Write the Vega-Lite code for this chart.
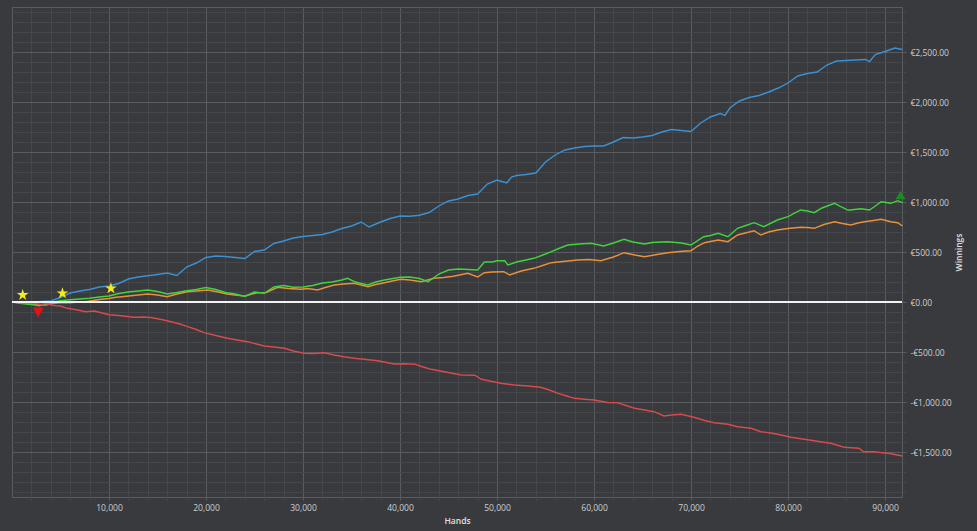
{
  "$schema": "https://vega.github.io/schema/vega-lite/v6.json",
  "width": 890,
  "height": 490,
  "autosize": {"type": "none"},
  "padding": {"left": 12, "top": 7, "right": 75, "bottom": 34},
  "background": "#383a3e",
  "datasets": {
    "lines": [
      {"series": "blue", "hands": 0, "winnings": 0}, {"series": "blue", "hands": 1000, "winnings": -5}, {"series": "blue", "hands": 2000, "winnings": -10}, {"series": "blue", "hands": 3000, "winnings": 5}, {"series": "blue", "hands": 4000, "winnings": 10}, {"series": "blue", "hands": 5000, "winnings": 45}, {"series": "blue", "hands": 6000, "winnings": 90}, {"series": "blue", "hands": 7000, "winnings": 110}, {"series": "blue", "hands": 8000, "winnings": 125}, {"series": "blue", "hands": 9000, "winnings": 150}, {"series": "blue", "hands": 10000, "winnings": 160}, {"series": "blue", "hands": 11000, "winnings": 185}, {"series": "blue", "hands": 12000, "winnings": 230}, {"series": "blue", "hands": 13000, "winnings": 250}, {"series": "blue", "hands": 14000, "winnings": 262}, {"series": "blue", "hands": 15000, "winnings": 275}, {"series": "blue", "hands": 16000, "winnings": 290}, {"series": "blue", "hands": 17000, "winnings": 265}, {"series": "blue", "hands": 18000, "winnings": 350}, {"series": "blue", "hands": 19000, "winnings": 390}, {"series": "blue", "hands": 20000, "winnings": 445}, {"series": "blue", "hands": 21000, "winnings": 460}, {"series": "blue", "hands": 22000, "winnings": 455}, {"series": "blue", "hands": 23000, "winnings": 445}, {"series": "blue", "hands": 24000, "winnings": 435}, {"series": "blue", "hands": 25000, "winnings": 505}, {"series": "blue", "hands": 26000, "winnings": 520}, {"series": "blue", "hands": 27000, "winnings": 585}, {"series": "blue", "hands": 28000, "winnings": 610}, {"series": "blue", "hands": 29000, "winnings": 640}, {"series": "blue", "hands": 30000, "winnings": 655}, {"series": "blue", "hands": 31000, "winnings": 665}, {"series": "blue", "hands": 32000, "winnings": 675}, {"series": "blue", "hands": 33000, "winnings": 700}, {"series": "blue", "hands": 34000, "winnings": 735}, {"series": "blue", "hands": 35000, "winnings": 760}, {"series": "blue", "hands": 36000, "winnings": 800}, {"series": "blue", "hands": 36800, "winnings": 750}, {"series": "blue", "hands": 38000, "winnings": 800}, {"series": "blue", "hands": 39000, "winnings": 835}, {"series": "blue", "hands": 40000, "winnings": 860}, {"series": "blue", "hands": 41000, "winnings": 858}, {"series": "blue", "hands": 42000, "winnings": 868}, {"series": "blue", "hands": 43000, "winnings": 895}, {"series": "blue", "hands": 44000, "winnings": 960}, {"series": "blue", "hands": 45000, "winnings": 1010}, {"series": "blue", "hands": 46000, "winnings": 1030}, {"series": "blue", "hands": 47000, "winnings": 1065}, {"series": "blue", "hands": 48000, "winnings": 1080}, {"series": "blue", "hands": 49000, "winnings": 1180}, {"series": "blue", "hands": 50000, "winnings": 1220}, {"series": "blue", "hands": 51000, "winnings": 1190}, {"series": "blue", "hands": 51500, "winnings": 1250}, {"series": "blue", "hands": 52000, "winnings": 1265}, {"series": "blue", "hands": 53000, "winnings": 1275}, {"series": "blue", "hands": 54000, "winnings": 1290}, {"series": "blue", "hands": 55000, "winnings": 1400}, {"series": "blue", "hands": 56000, "winnings": 1470}, {"series": "blue", "hands": 57000, "winnings": 1520}, {"series": "blue", "hands": 58000, "winnings": 1540}, {"series": "blue", "hands": 59000, "winnings": 1555}, {"series": "blue", "hands": 60000, "winnings": 1560}, {"series": "blue", "hands": 61000, "winnings": 1560}, {"series": "blue", "hands": 62000, "winnings": 1600}, {"series": "blue", "hands": 63000, "winnings": 1645}, {"series": "blue", "hands": 64000, "winnings": 1640}, {"series": "blue", "hands": 65000, "winnings": 1650}, {"series": "blue", "hands": 66000, "winnings": 1665}, {"series": "blue", "hands": 67000, "winnings": 1700}, {"series": "blue", "hands": 68000, "winnings": 1725}, {"series": "blue", "hands": 69000, "winnings": 1715}, {"series": "blue", "hands": 70000, "winnings": 1705}, {"series": "blue", "hands": 71000, "winnings": 1790}, {"series": "blue", "hands": 72000, "winnings": 1850}, {"series": "blue", "hands": 73000, "winnings": 1885}, {"series": "blue", "hands": 73500, "winnings": 1865}, {"series": "blue", "hands": 74000, "winnings": 1940}, {"series": "blue", "hands": 75000, "winnings": 2010}, {"series": "blue", "hands": 76000, "winnings": 2045}, {"series": "blue", "hands": 77000, "winnings": 2065}, {"series": "blue", "hands": 78000, "winnings": 2100}, {"series": "blue", "hands": 79000, "winnings": 2140}, {"series": "blue", "hands": 80000, "winnings": 2190}, {"series": "blue", "hands": 81000, "winnings": 2260}, {"series": "blue", "hands": 82000, "winnings": 2285}, {"series": "blue", "hands": 83000, "winnings": 2300}, {"series": "blue", "hands": 84000, "winnings": 2370}, {"series": "blue", "hands": 85000, "winnings": 2410}, {"series": "blue", "hands": 86000, "winnings": 2415}, {"series": "blue", "hands": 87000, "winnings": 2420}, {"series": "blue", "hands": 88000, "winnings": 2425}, {"series": "blue", "hands": 88400, "winnings": 2405}, {"series": "blue", "hands": 89000, "winnings": 2475}, {"series": "blue", "hands": 90000, "winnings": 2505}, {"series": "blue", "hands": 91000, "winnings": 2540}, {"series": "blue", "hands": 91800, "winnings": 2525},
      {"series": "orange", "hands": 0, "winnings": 0}, {"series": "orange", "hands": 1000, "winnings": -10}, {"series": "orange", "hands": 2000, "winnings": -20}, {"series": "orange", "hands": 3000, "winnings": -28}, {"series": "orange", "hands": 3500, "winnings": -30}, {"series": "orange", "hands": 4200, "winnings": -13}, {"series": "orange", "hands": 5000, "winnings": -8}, {"series": "orange", "hands": 5900, "winnings": -7}, {"series": "orange", "hands": 7000, "winnings": 0}, {"series": "orange", "hands": 7600, "winnings": 3}, {"series": "orange", "hands": 9000, "winnings": 25}, {"series": "orange", "hands": 10000, "winnings": 35}, {"series": "orange", "hands": 10700, "winnings": 47}, {"series": "orange", "hands": 11300, "winnings": 53}, {"series": "orange", "hands": 12500, "winnings": 65}, {"series": "orange", "hands": 14000, "winnings": 80}, {"series": "orange", "hands": 15000, "winnings": 70}, {"series": "orange", "hands": 16000, "winnings": 53}, {"series": "orange", "hands": 17000, "winnings": 80}, {"series": "orange", "hands": 18100, "winnings": 103}, {"series": "orange", "hands": 19000, "winnings": 110}, {"series": "orange", "hands": 20200, "winnings": 120}, {"series": "orange", "hands": 21000, "winnings": 105}, {"series": "orange", "hands": 22200, "winnings": 80}, {"series": "orange", "hands": 23000, "winnings": 70}, {"series": "orange", "hands": 24000, "winnings": 60}, {"series": "orange", "hands": 25300, "winnings": 93}, {"series": "orange", "hands": 26200, "winnings": 95}, {"series": "orange", "hands": 27400, "winnings": 147}, {"series": "orange", "hands": 28500, "winnings": 135}, {"series": "orange", "hands": 29800, "winnings": 127}, {"series": "orange", "hands": 30500, "winnings": 135}, {"series": "orange", "hands": 31500, "winnings": 120}, {"series": "orange", "hands": 32300, "winnings": 145}, {"series": "orange", "hands": 33200, "winnings": 170}, {"series": "orange", "hands": 34200, "winnings": 180}, {"series": "orange", "hands": 35300, "winnings": 187}, {"series": "orange", "hands": 36000, "winnings": 170}, {"series": "orange", "hands": 36700, "winnings": 153}, {"series": "orange", "hands": 37500, "winnings": 175}, {"series": "orange", "hands": 38400, "winnings": 193}, {"series": "orange", "hands": 39200, "winnings": 210}, {"series": "orange", "hands": 40100, "winnings": 227}, {"series": "orange", "hands": 41000, "winnings": 220}, {"series": "orange", "hands": 42200, "winnings": 203}, {"series": "orange", "hands": 43500, "winnings": 237}, {"series": "orange", "hands": 44500, "winnings": 245}, {"series": "orange", "hands": 45500, "winnings": 258}, {"series": "orange", "hands": 47000, "winnings": 287}, {"series": "orange", "hands": 48000, "winnings": 250}, {"series": "orange", "hands": 48700, "winnings": 293}, {"series": "orange", "hands": 49500, "winnings": 300}, {"series": "orange", "hands": 50700, "winnings": 303}, {"series": "orange", "hands": 51300, "winnings": 270}, {"series": "orange", "hands": 52500, "winnings": 310}, {"series": "orange", "hands": 53800, "winnings": 337}, {"series": "orange", "hands": 54700, "winnings": 365}, {"series": "orange", "hands": 55600, "winnings": 393}, {"series": "orange", "hands": 56800, "winnings": 405}, {"series": "orange", "hands": 58300, "winnings": 420}, {"series": "orange", "hands": 59500, "winnings": 425}, {"series": "orange", "hands": 60700, "winnings": 413}, {"series": "orange", "hands": 62000, "winnings": 450}, {"series": "orange", "hands": 63100, "winnings": 493}, {"series": "orange", "hands": 64200, "winnings": 470}, {"series": "orange", "hands": 65200, "winnings": 453}, {"series": "orange", "hands": 66500, "winnings": 475}, {"series": "orange", "hands": 67600, "winnings": 493}, {"series": "orange", "hands": 68800, "winnings": 505}, {"series": "orange", "hands": 70000, "winnings": 513}, {"series": "orange", "hands": 70700, "winnings": 560}, {"series": "orange", "hands": 71400, "winnings": 593}, {"series": "orange", "hands": 72000, "winnings": 605}, {"series": "orange", "hands": 72800, "winnings": 620}, {"series": "orange", "hands": 73800, "winnings": 603}, {"series": "orange", "hands": 74800, "winnings": 670}, {"series": "orange", "hands": 75600, "winnings": 690}, {"series": "orange", "hands": 76500, "winnings": 713}, {"series": "orange", "hands": 77200, "winnings": 670}, {"series": "orange", "hands": 78000, "winnings": 700}, {"series": "orange", "hands": 78900, "winnings": 720}, {"series": "orange", "hands": 80000, "winnings": 735}, {"series": "orange", "hands": 81300, "winnings": 747}, {"series": "orange", "hands": 82000, "winnings": 745}, {"series": "orange", "hands": 82700, "winnings": 737}, {"series": "orange", "hands": 83700, "winnings": 775}, {"series": "orange", "hands": 84800, "winnings": 803}, {"series": "orange", "hands": 85600, "winnings": 785}, {"series": "orange", "hands": 86500, "winnings": 770}, {"series": "orange", "hands": 87200, "winnings": 790}, {"series": "orange", "hands": 87900, "winnings": 803}, {"series": "orange", "hands": 88800, "winnings": 815}, {"series": "orange", "hands": 89600, "winnings": 827}, {"series": "orange", "hands": 90600, "winnings": 803}, {"series": "orange", "hands": 91300, "winnings": 793}, {"series": "orange", "hands": 91800, "winnings": 760},
      {"series": "green", "hands": 0, "winnings": 0}, {"series": "green", "hands": 1000, "winnings": -15}, {"series": "green", "hands": 2000, "winnings": -25}, {"series": "green", "hands": 2800, "winnings": -37}, {"series": "green", "hands": 3500, "winnings": -15}, {"series": "green", "hands": 4000, "winnings": -8}, {"series": "green", "hands": 5000, "winnings": 12}, {"series": "green", "hands": 6000, "winnings": 22}, {"series": "green", "hands": 7000, "winnings": 30}, {"series": "green", "hands": 8000, "winnings": 37}, {"series": "green", "hands": 9000, "winnings": 50}, {"series": "green", "hands": 10000, "winnings": 60}, {"series": "green", "hands": 11000, "winnings": 85}, {"series": "green", "hands": 12000, "winnings": 100}, {"series": "green", "hands": 13000, "winnings": 110}, {"series": "green", "hands": 14000, "winnings": 120}, {"series": "green", "hands": 15000, "winnings": 105}, {"series": "green", "hands": 16000, "winnings": 80}, {"series": "green", "hands": 17000, "winnings": 95}, {"series": "green", "hands": 18000, "winnings": 113}, {"series": "green", "hands": 19000, "winnings": 125}, {"series": "green", "hands": 20000, "winnings": 145}, {"series": "green", "hands": 21000, "winnings": 125}, {"series": "green", "hands": 22000, "winnings": 95}, {"series": "green", "hands": 23000, "winnings": 80}, {"series": "green", "hands": 24000, "winnings": 55}, {"series": "green", "hands": 25000, "winnings": 100}, {"series": "green", "hands": 26000, "winnings": 87}, {"series": "green", "hands": 27000, "winnings": 150}, {"series": "green", "hands": 28000, "winnings": 165}, {"series": "green", "hands": 29000, "winnings": 147}, {"series": "green", "hands": 30000, "winnings": 150}, {"series": "green", "hands": 31000, "winnings": 165}, {"series": "green", "hands": 32000, "winnings": 190}, {"series": "green", "hands": 33000, "winnings": 200}, {"series": "green", "hands": 34000, "winnings": 220}, {"series": "green", "hands": 34600, "winnings": 237}, {"series": "green", "hands": 35300, "winnings": 203}, {"series": "green", "hands": 36000, "winnings": 185}, {"series": "green", "hands": 36700, "winnings": 170}, {"series": "green", "hands": 37500, "winnings": 200}, {"series": "green", "hands": 38400, "winnings": 220}, {"series": "green", "hands": 39000, "winnings": 230}, {"series": "green", "hands": 40000, "winnings": 247}, {"series": "green", "hands": 41000, "winnings": 250}, {"series": "green", "hands": 42000, "winnings": 235}, {"series": "green", "hands": 42900, "winnings": 203}, {"series": "green", "hands": 44000, "winnings": 280}, {"series": "green", "hands": 45000, "winnings": 320}, {"series": "green", "hands": 46000, "winnings": 330}, {"series": "green", "hands": 47000, "winnings": 325}, {"series": "green", "hands": 48000, "winnings": 320}, {"series": "green", "hands": 48700, "winnings": 400}, {"series": "green", "hands": 49500, "winnings": 400}, {"series": "green", "hands": 50000, "winnings": 413}, {"series": "green", "hands": 50800, "winnings": 413}, {"series": "green", "hands": 51100, "winnings": 370}, {"series": "green", "hands": 52000, "winnings": 400}, {"series": "green", "hands": 53000, "winnings": 420}, {"series": "green", "hands": 53800, "winnings": 437}, {"series": "green", "hands": 55000, "winnings": 480}, {"series": "green", "hands": 55600, "winnings": 503}, {"series": "green", "hands": 56500, "winnings": 540}, {"series": "green", "hands": 57300, "winnings": 570}, {"series": "green", "hands": 58500, "winnings": 580}, {"series": "green", "hands": 59700, "winnings": 587}, {"series": "green", "hands": 61000, "winnings": 560}, {"series": "green", "hands": 62000, "winnings": 590}, {"series": "green", "hands": 63100, "winnings": 627}, {"series": "green", "hands": 64000, "winnings": 600}, {"series": "green", "hands": 65200, "winnings": 580}, {"series": "green", "hands": 66000, "winnings": 595}, {"series": "green", "hands": 67600, "winnings": 603}, {"series": "green", "hands": 69000, "winnings": 590}, {"series": "green", "hands": 70000, "winnings": 570}, {"series": "green", "hands": 71300, "winnings": 653}, {"series": "green", "hands": 72000, "winnings": 665}, {"series": "green", "hands": 72800, "winnings": 687}, {"series": "green", "hands": 73800, "winnings": 653}, {"series": "green", "hands": 74800, "winnings": 737}, {"series": "green", "hands": 75500, "winnings": 760}, {"series": "green", "hands": 76500, "winnings": 793}, {"series": "green", "hands": 77500, "winnings": 753}, {"series": "green", "hands": 78900, "winnings": 820}, {"series": "green", "hands": 80000, "winnings": 853}, {"series": "green", "hands": 81300, "winnings": 920}, {"series": "green", "hands": 82000, "winnings": 910}, {"series": "green", "hands": 82700, "winnings": 893}, {"series": "green", "hands": 83500, "winnings": 940}, {"series": "green", "hands": 84800, "winnings": 987}, {"series": "green", "hands": 85500, "winnings": 950}, {"series": "green", "hands": 86200, "winnings": 917}, {"series": "green", "hands": 87500, "winnings": 933}, {"series": "green", "hands": 88400, "winnings": 920}, {"series": "green", "hands": 89000, "winnings": 960}, {"series": "green", "hands": 89600, "winnings": 1003}, {"series": "green", "hands": 90600, "winnings": 987}, {"series": "green", "hands": 91300, "winnings": 1013}, {"series": "green", "hands": 91800, "winnings": 993},
      {"series": "red", "hands": 0, "winnings": 0}, {"series": "red", "hands": 1000, "winnings": -5}, {"series": "red", "hands": 2000, "winnings": -10}, {"series": "red", "hands": 3100, "winnings": -25}, {"series": "red", "hands": 3300, "winnings": -13}, {"series": "red", "hands": 4500, "winnings": -37}, {"series": "red", "hands": 5000, "winnings": -40}, {"series": "red", "hands": 5700, "winnings": -63}, {"series": "red", "hands": 6500, "winnings": -75}, {"series": "red", "hands": 7600, "winnings": -97}, {"series": "red", "hands": 8500, "winnings": -90}, {"series": "red", "hands": 9300, "winnings": -110}, {"series": "red", "hands": 10000, "winnings": -128}, {"series": "red", "hands": 11000, "winnings": -135}, {"series": "red", "hands": 12600, "winnings": -153}, {"series": "red", "hands": 13500, "winnings": -150}, {"series": "red", "hands": 14300, "winnings": -155}, {"series": "red", "hands": 15400, "winnings": -175}, {"series": "red", "hands": 16400, "winnings": -197}, {"series": "red", "hands": 17300, "winnings": -220}, {"series": "red", "hands": 18100, "winnings": -247}, {"series": "red", "hands": 19000, "winnings": -275}, {"series": "red", "hands": 19800, "winnings": -307}, {"series": "red", "hands": 21000, "winnings": -335}, {"series": "red", "hands": 22200, "winnings": -363}, {"series": "red", "hands": 23200, "winnings": -380}, {"series": "red", "hands": 24300, "winnings": -397}, {"series": "red", "hands": 25200, "winnings": -420}, {"series": "red", "hands": 26000, "winnings": -440}, {"series": "red", "hands": 27000, "winnings": -450}, {"series": "red", "hands": 28100, "winnings": -463}, {"series": "red", "hands": 29000, "winnings": -490}, {"series": "red", "hands": 30100, "winnings": -513}, {"series": "red", "hands": 31000, "winnings": -515}, {"series": "red", "hands": 32200, "winnings": -507}, {"series": "red", "hands": 33200, "winnings": -530}, {"series": "red", "hands": 34200, "winnings": -548}, {"series": "red", "hands": 35300, "winnings": -563}, {"series": "red", "hands": 36500, "winnings": -575}, {"series": "red", "hands": 37700, "winnings": -587}, {"series": "red", "hands": 38600, "winnings": -605}, {"series": "red", "hands": 39400, "winnings": -620}, {"series": "red", "hands": 40400, "winnings": -618}, {"series": "red", "hands": 41500, "winnings": -622}, {"series": "red", "hands": 42400, "winnings": -650}, {"series": "red", "hands": 43200, "winnings": -673}, {"series": "red", "hands": 44700, "winnings": -700}, {"series": "red", "hands": 46300, "winnings": -730}, {"series": "red", "hands": 47700, "winnings": -732}, {"series": "red", "hands": 48400, "winnings": -773}, {"series": "red", "hands": 49000, "winnings": -785}, {"series": "red", "hands": 50400, "winnings": -813}, {"series": "red", "hands": 51800, "winnings": -830}, {"series": "red", "hands": 53200, "winnings": -840}, {"series": "red", "hands": 54500, "winnings": -853}, {"series": "red", "hands": 55400, "winnings": -880}, {"series": "red", "hands": 56300, "winnings": -913}, {"series": "red", "hands": 57200, "winnings": -940}, {"series": "red", "hands": 58000, "winnings": -963}, {"series": "red", "hands": 59000, "winnings": -972}, {"series": "red", "hands": 60000, "winnings": -980}, {"series": "red", "hands": 61400, "winnings": -1005}, {"series": "red", "hands": 62400, "winnings": -1007}, {"series": "red", "hands": 63300, "winnings": -1035}, {"series": "red", "hands": 64200, "winnings": -1063}, {"series": "red", "hands": 65200, "winnings": -1080}, {"series": "red", "hands": 66200, "winnings": -1097}, {"series": "red", "hands": 67200, "winnings": -1140}, {"series": "red", "hands": 68000, "winnings": -1130}, {"series": "red", "hands": 69000, "winnings": -1123}, {"series": "red", "hands": 70300, "winnings": -1153}, {"series": "red", "hands": 71400, "winnings": -1185}, {"series": "red", "hands": 72400, "winnings": -1207}, {"series": "red", "hands": 73800, "winnings": -1222}, {"series": "red", "hands": 74800, "winnings": -1247}, {"series": "red", "hands": 76200, "winnings": -1263}, {"series": "red", "hands": 77200, "winnings": -1297}, {"series": "red", "hands": 78200, "winnings": -1310}, {"series": "red", "hands": 79300, "winnings": -1330}, {"series": "red", "hands": 80300, "winnings": -1353}, {"series": "red", "hands": 81500, "winnings": -1370}, {"series": "red", "hands": 82700, "winnings": -1387}, {"series": "red", "hands": 83500, "winnings": -1400}, {"series": "red", "hands": 84400, "winnings": -1413}, {"series": "red", "hands": 85200, "winnings": -1435}, {"series": "red", "hands": 85800, "winnings": -1453}, {"series": "red", "hands": 87300, "winnings": -1463}, {"series": "red", "hands": 87800, "winnings": -1497}, {"series": "red", "hands": 88900, "winnings": -1497}, {"series": "red", "hands": 89500, "winnings": -1505}, {"series": "red", "hands": 90300, "winnings": -1513}, {"series": "red", "hands": 91000, "winnings": -1525}, {"series": "red", "hands": 91800, "winnings": -1540}
    ],
    "markers": [
      {"kind": "star", "hands": 1100, "winnings": 70},
      {"kind": "star", "hands": 5200, "winnings": 87},
      {"kind": "star", "hands": 10200, "winnings": 137},
      {"kind": "down", "hands": 2700, "winnings": -103},
      {"kind": "up", "hands": 91600, "winnings": 1070}
    ],
    "baseline": [{"winnings": 0}]
  },
  "layer": [
    {
      "data": {"name": "lines"},
      "mark": {"type": "line", "opacity": 0},
      "encoding": {
        "x": {
          "field": "hands", "type": "quantitative",
          "scale": {"domain": [0, 91750], "nice": false, "zero": false},
          "axis": {
            "orient": "bottom", "title": null, "labels": false, "domain": false,
            "grid": true, "gridColor": "#45474b", "gridWidth": 1,
            "ticks": true, "tickColor": "#45474b", "tickSize": 3,
            "values": [2000, 4000, 6000, 8000, 12000, 14000, 16000, 18000, 22000, 24000, 26000, 28000, 32000, 34000, 36000, 38000, 42000, 44000, 46000, 48000, 52000, 54000, 56000, 58000, 62000, 64000, 66000, 68000, 72000, 74000, 76000, 78000, 82000, 84000, 86000, 88000]
          }
        },
        "y": {
          "field": "winnings", "type": "quantitative",
          "scale": {"domain": [-1950, 2950], "nice": false, "zero": false},
          "axis": {
            "orient": "right", "title": null, "labels": false, "domain": false,
            "grid": true, "gridColor": "#45474b", "gridWidth": 1,
            "ticks": true, "tickColor": "#45474b", "tickSize": 4,
            "values": [-1900, -1800, -1700, -1600, -1400, -1300, -1200, -1100, -900, -800, -700, -600, -400, -300, -200, -100, 100, 200, 300, 400, 600, 700, 800, 900, 1100, 1200, 1300, 1400, 1600, 1700, 1800, 1900, 2100, 2200, 2300, 2400, 2600, 2700, 2800, 2900]
          }
        },
        "detail": {"field": "series"}
      }
    },
    {
      "data": {"name": "lines"},
      "mark": {"type": "line", "strokeWidth": 1.4},
      "encoding": {
        "x": {
          "field": "hands", "type": "quantitative",
          "axis": {
            "orient": "bottom", "title": "Hands", "domain": false,
            "grid": true, "gridColor": "#5a5c60", "gridWidth": 1,
            "ticks": true, "tickColor": "#5a5c60", "tickSize": 3,
            "values": [10000, 20000, 30000, 40000, 50000, 60000, 70000, 80000, 90000],
            "labelExpr": "format(datum.value, ',')",
            "labelFont": "Open Sans", "labelFontSize": 8.5, "labelColor": "#cfcfcf", "labelPadding": 3,
            "titleFont": "Open Sans", "titleFontSize": 8.5, "titleFontWeight": 600, "titleColor": "#e0e0e0", "titlePadding": 5
          }
        },
        "y": {
          "field": "winnings", "type": "quantitative",
          "axis": {
            "orient": "right", "title": "Winnings", "titleAngle": 270, "domain": false,
            "grid": true, "gridColor": "#5a5c60", "gridWidth": 1,
            "ticks": true, "tickColor": "#5a5c60", "tickSize": 4,
            "values": [-1500, -1000, -500, 0, 500, 1000, 1500, 2000, 2500],
            "labelExpr": "(datum.value < 0 ? '-' : '') + '€' + format(abs(datum.value), ',.2f')",
            "labelFont": "Open Sans", "labelFontSize": 8.5, "labelColor": "#cfcfcf", "labelPadding": 4, "labelAlign": "left",
            "titleFont": "Open Sans", "titleFontSize": 8.5, "titleFontWeight": 600, "titleColor": "#e0e0e0", "titlePadding": 12
          }
        },
        "color": {
          "field": "series", "type": "nominal", "legend": null,
          "scale": {"domain": ["blue", "orange", "green", "red"], "range": ["#3b91d2", "#e8913a", "#3fd53b", "#d84a4c"]}
        }
      }
    },
    {
      "data": {"name": "baseline"},
      "mark": {"type": "rule", "color": "#f2f2f2", "strokeWidth": 2},
      "encoding": {"y": {"field": "winnings", "type": "quantitative", "axis": null}}
    },
    {
      "data": {"name": "markers"},
      "mark": {"type": "point", "filled": true, "opacity": 1, "strokeWidth": 0},
      "encoding": {
        "x": {"field": "hands", "type": "quantitative", "axis": null},
        "y": {"field": "winnings", "type": "quantitative", "axis": null},
        "shape": {
          "field": "kind", "type": "nominal", "legend": null,
          "scale": {"domain": ["star", "down", "up"], "range": ["M0,-1L0.2245,-0.309L0.951,-0.309L0.363,0.118L0.588,0.809L0,0.382L-0.588,0.809L-0.363,0.118L-0.951,-0.309L-0.2245,-0.309Z", "triangle-down", "triangle-up"]}
        },
        "size": {
          "field": "kind", "type": "nominal", "legend": null,
          "scale": {"domain": ["star", "down", "up"], "range": [150, 100, 100]}
        },
        "color": {
          "field": "kind", "type": "nominal", "legend": null,
          "scale": {"domain": ["star", "down", "up"], "range": ["#f5ea1c", "#e3121a", "#1c8a22"]}
        }
      }
    }
  ],
  "resolve": {"axis": {"x": "independent", "y": "independent"}, "scale": {"color": "independent"}},
  "config": {
    "view": {"stroke": "#5a5c60", "strokeWidth": 1}
  }
}
